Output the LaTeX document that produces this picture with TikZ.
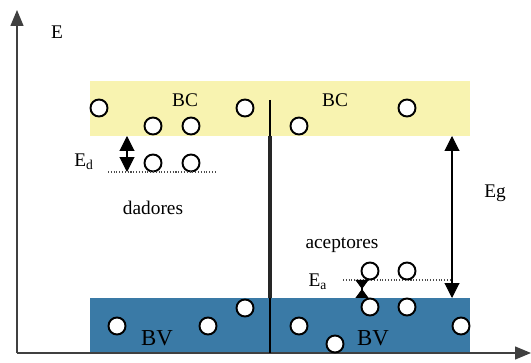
\documentclass[tikz,border=0pt]{standalone}
\usepackage{fontspec}
\setmainfont{Liberation Serif}
\usetikzlibrary{arrows.meta}
\tikzset{>=stealth}
\definecolor{bcYellow}{RGB}{248,243,176}
\definecolor{bvBlue}{RGB}{58,122,166}
\tikzstyle{carrier} = [circle, draw = black, fill = white, line width = 1.1pt, minimum size = 0.34cm, inner sep = 0]
\tikzstyle{band} = [rectangle, inner sep = 0, minimum width = 7.6cm, minimum height = 1.1cm]
\tikzstyle{label} = [font = \fontsize{11}{13}\selectfont, inner sep = 0]
\tikzstyle{level} = [densely dotted, line width = 0.6pt, draw = black!70]
\tikzstyle{gap} = [{Triangle[length = 3mm, width = 3mm]}-{Triangle[length = 3mm, width = 3mm]}, line width = 0.6pt]
\tikzstyle{axis} = [-{Triangle[length = 3.2mm, width = 2.6mm]}, line width = 0.8pt, draw = black!75, fill = black!75]

\begin{document}
\begin{tikzpicture}[x = 0.02cm, y = 0.02cm]
    \useasboundingbox (0,0) rectangle (531,362);
    \node (bc) [band, fill = bcYellow] at (280,253.5) {};
    \node (bv) [band, fill = bvBlue] at (280,36.5) {};

    \coordinate (origin) at (17,9);
    \coordinate (yTip) at (17,352);
    \coordinate (xTip) at (531,9);
    \draw [axis] (origin) -- (yTip);
    \draw [axis] (origin) -- (xTip);

    \coordinate (wallTop) at (270,262);
    \coordinate (wallBot) at (270,9);
    \draw [line width = 0.9pt] (wallTop) -- (wallBot);
    \draw [line width = 2.4pt, draw = black!85] (bc.south -| wallTop) -- (bv.north -| wallTop);

    \node (axisE) [label] at (57,330) {E};
    \node (bcLeft) [label] at (185,262) {BC};
    \node (bcRight) [label] at (335,262) {BC};
    \node (bvLeft) [label, font = \fontsize{13}{15}\selectfont] at (157,24) {BV};
    \node (bvRight) [label, font = \fontsize{13}{15}\selectfont] at (373,24) {BV};
    \node (dadores) [label] at (153,154) {dadores};
    \node (aceptores) [label] at (342,117) {aceptores};
    \node (ed) [label] at (84,200) {E\textsubscript{d}};
    \node (ea) [label] at (318,80) {E\textsubscript{a}};
    \node (eg) [label] at (495,169) {Eg};

    \node (c1) [carrier] at (99,254) {};
    \node (c2) [carrier] at (153,236) {};
    \node (c3) [carrier] at (191,236) {};
    \node (c4) [carrier] at (245,254) {};
    \node (c5) [carrier] at (299,236) {};
    \node (c6) [carrier] at (407,254) {};
    \node (d1) [carrier] at (153,199) {};
    \node (d2) [carrier] at (191,199) {};

    \coordinate (donorL) at (108,190);
    \coordinate (donorR) at (217,190);
    \draw [level] (donorL) -- (donorR);
    \coordinate (acceptL) at (343,82);
    \coordinate (acceptR) at (452,82);
    \draw [level] (acceptL) -- (acceptR);

    \node (a1) [carrier] at (370,91) {};
    \node (a2) [carrier] at (407,91) {};

    \node (v1) [carrier] at (117,36) {};
    \node (v2) [carrier] at (208,36) {};
    \node (v3) [carrier] at (245,54) {};
    \node (v4) [carrier] at (299,36) {};
    \node (v5) [carrier] at (335,18) {};
    \node (v6) [carrier] at (370,55) {};
    \node (v7) [carrier] at (407,55) {};
    \node (v8) [carrier] at (461,36) {};

    \coordinate (edTop) at (127,226);
    \coordinate (edBot) at (127,190);
    \draw [gap] (edTop) -- (edBot);
    \coordinate (eaTop) at (362,82);
    \coordinate (eaBot) at (362,64);
    \draw [{Triangle[reversed, length = 1.8mm, width = 2.6mm]}-{Triangle[reversed, length = 1.8mm, width = 2.6mm]}, line width = 0.6pt] (eaTop) -- (eaBot);
    \coordinate (egTop) at (452,226);
    \coordinate (egBot) at (452,64);
    \draw [gap] (egTop) -- (egBot);
\end{tikzpicture}
\end{document}
